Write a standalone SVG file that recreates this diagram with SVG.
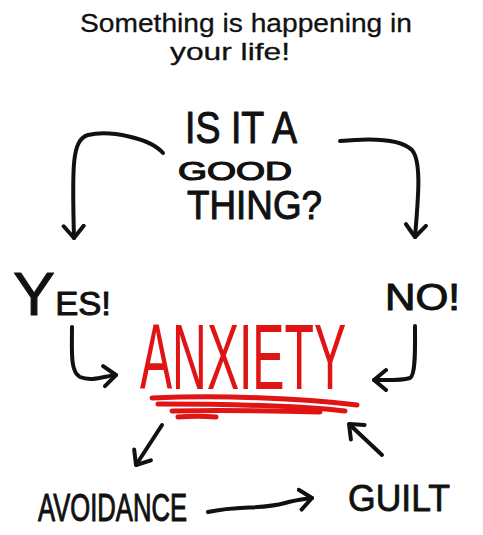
<svg xmlns="http://www.w3.org/2000/svg" width="483" height="535" viewBox="0 0 483 535">
<style>
.t{font-family:"Liberation Sans","DejaVu Sans",sans-serif;fill:#111;stroke:#111;stroke-linejoin:round}
.c{fill:none;stroke:#111;stroke-width:4;stroke-linecap:round;stroke-linejoin:round}
.r{fill:none;stroke:#e01414;stroke-width:5;stroke-linecap:round}
</style>
<defs>
<marker id="ah" viewBox="-14 -13 16 26" markerWidth="16" markerHeight="26" refX="0" refY="0" orient="auto" markerUnits="userSpaceOnUse">
<path d="M-12,-10 L0,0 L-12,10" fill="none" stroke="#111" stroke-width="4" stroke-linecap="round" stroke-linejoin="round"/>
</marker>
</defs>
<rect width="483" height="535" fill="#fff"/>
<g id="title">
<text class="t" x="80" y="32" font-size="26" stroke-width="0.3" textLength="332" lengthAdjust="spacingAndGlyphs">Something is happening in</text>
<text class="t" x="170" y="60" font-size="24" stroke-width="0.3" textLength="120" lengthAdjust="spacingAndGlyphs">your life!</text>
</g>
<g id="question">
<text class="t" x="185" y="143" font-size="44" stroke-width="1" textLength="112" lengthAdjust="spacingAndGlyphs">IS IT A</text>
<text class="t" x="178" y="180" font-size="25" stroke-width="1.2" textLength="114" lengthAdjust="spacingAndGlyphs">GOOD</text>
<text class="t" x="187" y="219" font-size="40" stroke-width="1" textLength="135" lengthAdjust="spacingAndGlyphs">THING?</text>
</g>
<g id="yes">
<text class="t" x="13" y="315" stroke-width="1" lengthAdjust="spacingAndGlyphs" textLength="98"><tspan font-size="62">Y</tspan><tspan font-size="34">ES!</tspan></text>
</g>
<g id="no">
<text class="t" x="385" y="310" font-size="36" stroke-width="1" textLength="75" lengthAdjust="spacingAndGlyphs">NO!</text>
</g>
<g id="anxiety">
<text x="140" y="389" font-family="'Liberation Sans','DejaVu Sans',sans-serif" font-size="92" fill="#e01414" textLength="206" lengthAdjust="spacingAndGlyphs">ANXIETY</text>
<path class="r" d="M152,398 C220,395 300,398 357,405"/>
<path class="r" d="M158,404 C230,404 300,406 345,411"/>
<path class="r" d="M172,411 C230,410 280,411 320,412"/>
<path class="r" d="M178,417 C190,416 205,416 216,417"/>
</g>
<g id="avoidance">
<text class="t" x="38" y="521" font-size="38" stroke-width="1" textLength="149" lengthAdjust="spacingAndGlyphs">AVOIDANCE</text>
</g>
<g id="guilt">
<text class="t" x="348" y="511" font-size="36" stroke-width="0.8" textLength="102" lengthAdjust="spacingAndGlyphs">GUILT</text>
</g>
<g id="connectors">
<path class="c" marker-end="url(#ah)" d="M163,153 C150,138 110,130 88,135 C72,140 72,165 74,238"/>
<path class="c" marker-end="url(#ah)" d="M340,141 C370,138 400,138 412,150 C422,162 418,200 415,237"/>
<path class="c" marker-end="url(#ah)" d="M72,327 C72,350 70,372 80,377 C92,382 105,376 116,375"/>
<path class="c" marker-end="url(#ah)" d="M415,326 C415,345 416,375 410,378 C400,381 385,380 374,380"/>
<path class="c" marker-end="url(#ah)" d="M162,425 L136,465"/>
<path class="c" marker-end="url(#ah)" d="M382,455 L349,424"/>
<path class="c" marker-end="url(#ah)" d="M208,512 C240,505 260,510 285,503 C295,500 305,499 312,498"/>
</g>
</svg>
